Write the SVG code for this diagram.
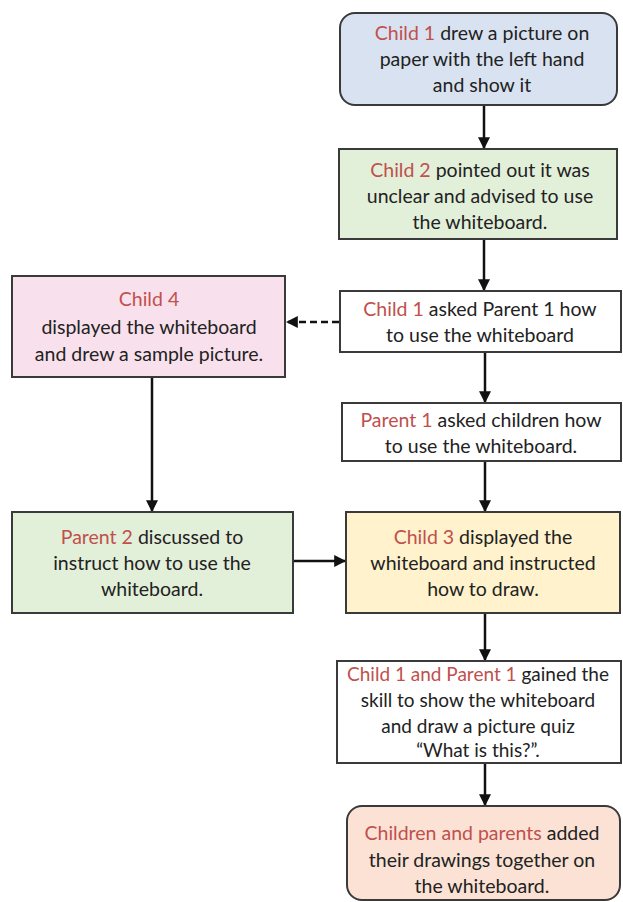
<svg xmlns="http://www.w3.org/2000/svg" width="623" height="902" viewBox="0 0 623 902">
<defs>
<style>
.box{stroke:#3a3a3a;stroke-width:2}
.t{font-family:Lato,"Open Sans","Liberation Sans",sans-serif;font-size:19.5px;fill:#222;text-anchor:middle}
.s{font-size:19px}
.r{fill:#c0504d}
.c{stroke:#111;stroke-width:2.5;fill:none}
.d{stroke-dasharray:7 4}
</style>
<marker id="ah" viewBox="0 0 10 10" refX="9" refY="5" markerWidth="12" markerHeight="12" markerUnits="userSpaceOnUse" orient="auto">
<path d="M0,0 L10,5 L0,10 z" fill="#111"/>
</marker>
</defs>
<rect width="623" height="902" fill="#ffffff"/>

<g id="connectors">
<line class="c" x1="484" y1="105" x2="484" y2="148" marker-end="url(#ah)"/>
<line class="c" x1="484" y1="239" x2="484" y2="290" marker-end="url(#ah)"/>
<line class="c d" x1="339" y1="322" x2="287" y2="322" marker-end="url(#ah)"/>
<line class="c" x1="485" y1="352" x2="485" y2="402" marker-end="url(#ah)"/>
<line class="c" x1="485" y1="461" x2="485" y2="511" marker-end="url(#ah)"/>
<line class="c" x1="152" y1="377" x2="152" y2="511" marker-end="url(#ah)"/>
<line class="c" x1="293" y1="561" x2="345" y2="561" marker-end="url(#ah)"/>
<line class="c" x1="485" y1="613" x2="485" y2="660" marker-end="url(#ah)"/>
<line class="c" x1="485" y1="763" x2="485" y2="805" marker-end="url(#ah)"/>
</g>

<g id="n1">
<rect class="box" x="340" y="13" width="277" height="92" rx="15" fill="#d9e2f1"/>
<text class="t" x="482" y="40"><tspan class="r">Child 1</tspan> drew  a picture on</text>
<text class="t" x="482" y="66">paper with the left hand</text>
<text class="t" x="482" y="92">and show  it</text>
</g>

<g id="n2">
<rect class="box" x="339" y="149" width="278" height="90" fill="#e2efd9"/>
<text class="t" x="480" y="177"><tspan class="r">Child 2</tspan> pointed  out it was</text>
<text class="t" x="480" y="203">unclear and  advised  to use</text>
<text class="t" x="480" y="229">the whiteboard.</text>
</g>

<g id="n3">
<rect class="box" x="340" y="291" width="281" height="61" fill="#ffffff"/>
<text class="t" x="480" y="316"><tspan class="r">Child  1</tspan> asked Parent 1 how</text>
<text class="t" x="480" y="342">to use the whiteboard</text>
</g>

<g id="n4">
<rect class="box" x="12" y="276" width="273" height="101" fill="#f8e1ec"/>
<text class="t" x="149" y="306"><tspan class="r">Child 4</tspan></text>
<text class="t" x="149" y="334">displayed  the whiteboard</text>
<text class="t" x="149" y="361">and drew a sample picture.</text>
</g>

<g id="n5">
<rect class="box" x="342" y="403" width="279" height="58" fill="#ffffff"/>
<text class="t" x="481" y="427"><tspan class="r">Parent  1</tspan> asked children how</text>
<text class="t" x="481" y="453">to use the whiteboard.</text>
</g>

<g id="n6">
<rect class="box" x="12" y="512" width="281" height="101" fill="#e2efd9"/>
<text class="t" x="152" y="544"><tspan class="r">Parent 2</tspan> discussed  to</text>
<text class="t" x="152" y="570">instruct how to use the</text>
<text class="t" x="152" y="596">whiteboard.</text>
</g>

<g id="n7">
<rect class="box" x="346" y="512" width="274" height="101" fill="#fff2cc"/>
<text class="t" x="483" y="544"><tspan class="r">Child 3</tspan> displayed  the</text>
<text class="t" x="483" y="570">whiteboard and instructed</text>
<text class="t" x="483" y="596">how to draw.</text>
</g>

<g id="n8">
<rect class="box" x="337" y="661" width="284" height="102" fill="#ffffff"/>
<text class="t s" x="478" y="681"><tspan class="r">Child 1 and Parent 1</tspan> gained the</text>
<text class="t s" x="478" y="707">skill to show the whiteboard</text>
<text class="t s" x="478" y="733">and draw a picture quiz</text>
<text class="t s" x="478" y="757">“What is this?”.</text>
</g>

<g id="n9">
<rect class="box" x="347" y="806" width="273" height="94" rx="15" fill="#fbe2d5"/>
<text class="t" x="482" y="840"><tspan class="r">Children  and  parents</tspan> added</text>
<text class="t" x="482" y="867">their drawings together on</text>
<text class="t" x="482" y="893">the whiteboard.</text>
</g>
</svg>
